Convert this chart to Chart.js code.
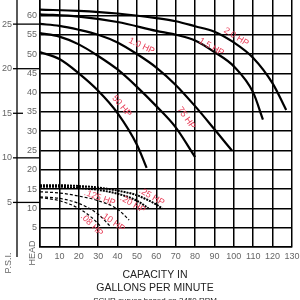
<!DOCTYPE html>
<html>
<head>
<meta charset="utf-8">
<title>Pump curves</title>
<script src="https://cdn.jsdelivr.net/npm/chart.js@4.4.1/dist/chart.umd.min.js"></script>
<style>
  html, body { margin: 0; padding: 0; background: #fff; }
  #wrap { width: 300px; height: 300px; overflow: hidden; }
</style>
</head>
<body>
<div id="wrap"><canvas id="chart" width="300" height="300"></canvas></div>
<script>
// capacity (gpm) / head (ft), one pair of arrays per motor
var hp20Gpm = [0, 20, 40, 60, 70, 80, 90, 100, 110, 120, 127];
var hp20Head = [61.5, 61.2, 60.5, 59.3, 58.5, 57.2, 55.8, 53, 49, 42.4, 35.5];
var hp15Gpm = [0, 20, 40, 60, 70, 80, 90, 100, 110, 115];
var hp15Head = [60.3, 59.7, 58.3, 56, 55, 53.5, 50.5, 46.8, 40, 33];
var hp10Gpm = [0, 10, 20, 30, 40, 50, 60, 70, 80, 90, 99];
var hp10Head = [57.8, 57.3, 56.3, 55, 53, 50, 46.5, 42, 36.5, 30.5, 25];
var hp75Gpm = [0, 10, 20, 30, 40, 50, 60, 70, 80];
var hp75Head = [55.4, 54.5, 52.5, 49.5, 46, 41.5, 36.5, 31, 23.3];
var hp50Gpm = [0, 10, 20, 30, 40, 50, 55];
var hp50Head = [50.5, 48.7, 45, 40.5, 34.7, 26.5, 20.5];

var p25Gpm = [0, 10, 20, 30, 40, 50, 60, 63];
var p25Head = [16, 16, 15.8, 15.4, 14.6, 13.4, 11, 10];
var p20Gpm = [0, 10, 20, 30, 40, 50, 56];
var p20Head = [15.6, 15.6, 15.3, 14.8, 13.8, 12, 10];
var p125Gpm = [0, 10, 20, 30, 40, 46];
var p125Head = [14.3, 14, 13.2, 12, 9.8, 7];
var p10Gpm = [0, 10, 20, 30, 36];
var p10Head = [13, 12.6, 11.3, 8.5, 5.5];
var p08Gpm = [0, 10, 20, 27, 31];
var p08Head = [12.8, 12, 10, 7.5, 5.5];

var gpmTicks = [0, 10, 20, 30, 40, 50, 60, 70, 80, 90, 100, 110, 120, 130];
var psiTicks = [5, 10, 15, 20, 25];
var FT_PER_PSI = 2.31;

function pts(xs, ys) {
  return xs.map(function(x, i) { return { x: x, y: ys[i] }; });
}

function curve(xs, ys, dash, width) {
  return {
    data: pts(xs, ys),
    borderColor: '#000',
    borderWidth: width,
    borderDash: dash,
    pointRadius: 0,
    fill: false,
    cubicInterpolationMode: 'monotone'
  };
}

// red captions along the curves (anchor in gpm / ft, angle in degrees)
var curveLabels = [
  { text: '2.0 HP', gpm: 101.2, ft: 54.4, rot: 32 },
  { text: '1.5 HP', gpm: 88.4, ft: 51.8, rot: 30 },
  { text: '1.0 HP', gpm: 52.4, ft: 52.1, rot: 25 },
  { text: '75 HP', gpm: 75.5, ft: 33.4, rot: 55 },
  { text: '50 HP', gpm: 42.1, ft: 36.5, rot: 50 },
  { text: '.25 HP', gpm: 57.6, ft: 13.0, rot: 30 },
  { text: '.20 HP', gpm: 47.8, ft: 11.1, rot: 30 },
  { text: '.125 HP', gpm: 30.8, ft: 12.7, rot: 20 },
  { text: '.10 HP', gpm: 37.5, ft: 6.5, rot: 35 },
  { text: '.08 HP', gpm: 26.7, ft: 5.7, rot: 45 }
];

var extras = {
  id: 'extras',
  afterDraw: function(chart) {
    var ctx = chart.ctx;
    var xs = chart.scales.x, ys = chart.scales.y;
    var area = chart.chartArea;
    ctx.save();

    // PSI scale on the far left
    ctx.strokeStyle = '#000';
    ctx.lineWidth = 1.3;
    ctx.beginPath();
    ctx.moveTo(17, 0);
    ctx.lineTo(17, 257);
    ctx.stroke();
    ctx.font = '9px "Liberation Sans", Arial, sans-serif';
    ctx.fillStyle = '#666';
    ctx.textAlign = 'right';
    ctx.textBaseline = 'middle';
    psiTicks.forEach(function(p) {
      var y = ys.getPixelForValue(p * FT_PER_PSI);
      ctx.beginPath();
      ctx.moveTo(13, y);
      ctx.lineTo(p === 15 ? 23 : area.left, y);
      ctx.stroke();
      ctx.fillText(String(p), 12, y);
    });

    // rotated axis names
    ctx.textAlign = 'center';
    ctx.save();
    ctx.translate(9, 263);
    ctx.rotate(-Math.PI / 2);
    ctx.fillText('P.S.I.', 0, 0);
    ctx.restore();
    ctx.save();
    ctx.translate(33, 253);
    ctx.rotate(-Math.PI / 2);
    ctx.fillText('HEAD', 0, 0);
    ctx.restore();

    // x title
    ctx.fillStyle = '#222';
    ctx.font = '10.5px "Liberation Sans", Arial, sans-serif';
    ctx.fillText('CAPACITY IN', 155, 275);
    ctx.fillText('GALLONS PER MINUTE', 155, 288);
    ctx.font = '8px "Liberation Sans", Arial, sans-serif';
    ctx.fillText('SCUR curves based on 3450 RPM', 155, 301);

    // curve captions
    ctx.fillStyle = '#e8405a';
    ctx.font = '9px "Liberation Sans", Arial, sans-serif';
    curveLabels.forEach(function(l) {
      ctx.save();
      ctx.translate(xs.getPixelForValue(l.gpm), ys.getPixelForValue(l.ft));
      ctx.rotate(l.rot * Math.PI / 180);
      ctx.fillText(l.text, 0, 0);
      ctx.restore();
    });
    ctx.restore();
  }
};

var ctx = document.getElementById('chart').getContext('2d');
var myChart = new Chart(ctx, {
  type: 'line',
  data: {
    datasets: [
      curve(hp20Gpm, hp20Head, [], 2.2),
      curve(hp15Gpm, hp15Head, [], 2.2),
      curve(hp10Gpm, hp10Head, [], 2.2),
      curve(hp75Gpm, hp75Head, [], 2.2),
      curve(hp50Gpm, hp50Head, [], 2.2),
      curve(p25Gpm, p25Head, [2, 1], 2),
      curve(p20Gpm, p20Head, [2, 1], 2),
      curve(p125Gpm, p125Head, [3, 2], 1.2),
      curve(p10Gpm, p10Head, [3, 2], 1.2),
      curve(p08Gpm, p08Head, [3, 2], 1.2)
    ]
  },
  options: {
    responsive: false,
    animation: false,
    layout: { padding: { top: 0, left: 0, right: 8, bottom: 0 } },
    plugins: {
      legend: { display: false },
      tooltip: { enabled: false }
    },
    scales: {
      x: {
        type: 'linear',
        min: 0,
        max: 130,
        afterBuildTicks: function(s) {
          s.ticks = gpmTicks.map(function(v) { return { value: v }; });
        },
        afterFit: function(s) {
          s.height = 53;
          s.paddingLeft = 0;
          s.paddingRight = 0;
        },
        grid: { color: '#000', lineWidth: 1.5, drawTicks: false },
        border: { color: '#000', width: 1.5 },
        ticks: {
          color: '#666',
          padding: 4,
          maxRotation: 0,
          font: { size: 9, family: '"Liberation Sans", Arial, sans-serif' }
        }
      },
      y: {
        min: 0,
        max: 64,
        afterFit: function(s) {
          s.width = 40;
          s.paddingTop = 0;
          s.paddingBottom = 0;
        },
        grid: { color: '#000', lineWidth: 1.5, drawTicks: false },
        border: { color: '#000', width: 1.5 },
        ticks: {
          stepSize: 5,
          includeBounds: false,
          color: '#666',
          padding: 3,
          font: { size: 9, family: '"Liberation Sans", Arial, sans-serif' },
          callback: function(v) { return v === 0 ? '' : v; }
        }
      }
    }
  },
  plugins: [extras]
});
</script>
</body>
</html>
